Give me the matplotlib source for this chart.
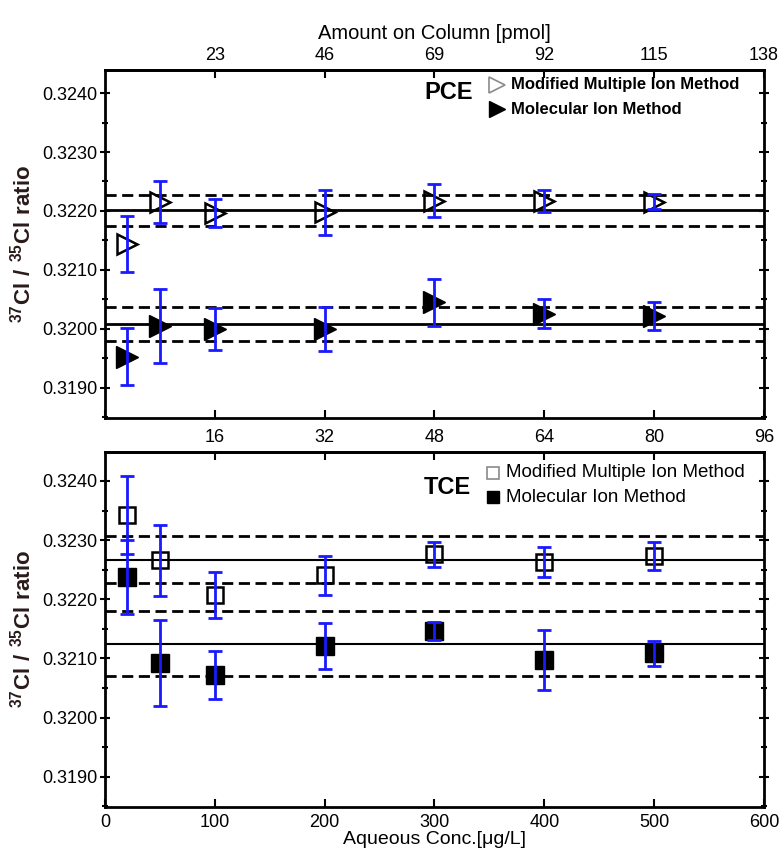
import numpy as np
import matplotlib.pyplot as plt
from matplotlib.ticker import MultipleLocator

plt.rcParams['font.family'] = ['Liberation Sans', 'DejaVu Sans']
plt.rcParams['mathtext.fontset'] = 'custom'
plt.rcParams['mathtext.rm'] = 'Liberation Sans'
plt.rcParams['mathtext.bf'] = 'Liberation Sans:bold'

# aqueous concentration (ug/L)
conc = [20, 50, 100, 200, 300, 400, 500]

# PCE ratios
pce_mmi = [0.32144, 0.32215, 0.32196, 0.32198, 0.32217, 0.32217, 0.32216]
pce_mmi_err = [0.00048, 0.00036, 0.00024, 0.00038, 0.00028, 0.00019, 0.00013]
pce_mol = [0.31953, 0.32005, 0.32000, 0.32000, 0.32045, 0.32026, 0.32022]
pce_mol_err = [0.00048, 0.00062, 0.00036, 0.00038, 0.00040, 0.00025, 0.00023]
pce_mean = [0.32201, 0.32009]
pce_sd = [0.00026, 0.00029]

# TCE ratios
tce_mmi = [0.32342, 0.32266, 0.32208, 0.32241, 0.32276, 0.32263, 0.32273]
tce_mmi_err = [0.00066, 0.00060, 0.00039, 0.00033, 0.00021, 0.00025, 0.00024]
tce_mol = [0.32238, 0.32092, 0.32072, 0.32121, 0.32146, 0.32098, 0.32109]
tce_mol_err = [0.00063, 0.00073, 0.00040, 0.00039, 0.00015, 0.00051, 0.00021]
tce_mean = [0.32267, 0.32125]
tce_sd = [0.00040, 0.00055]

# amount on column (pmol) per ug/L for each compound
pce_factor = 0.23
tce_factor = 0.16
pce_pmol_ticks = [23, 46, 69, 92, 115, 138]
tce_pmol_ticks = [16, 32, 48, 64, 80, 96]

x_ticks = [0, 100, 200, 300, 400, 500, 600]
y_ticks = [0.3190, 0.3200, 0.3210, 0.3220, 0.3230, 0.3240]
labels = ['Modified Multiple Ion Method', 'Molecular Ion Method']

fig = plt.figure(figsize=(7.8, 8.52), dpi=100)
ax1 = fig.add_axes([0.1346, 0.5094, 0.8449, 0.4084])
ax2 = fig.add_axes([0.1346, 0.0528, 0.8449, 0.4167])

blue = '#1a1aff'


def panel(ax, y1, e1, y2, e2, means, sds, marker, ms1, ms2, factor,
          pmol_ticks, show_xlabels, ylim, lw_mean):
    for m, s in zip(means, sds):
        ax.axhline(m, color='black', lw=lw_mean, zorder=1)
        ax.axhline(m + s, color='black', lw=2, ls=(0, (4, 2)), zorder=1)
        ax.axhline(m - s, color='black', lw=2, ls=(0, (4, 2)), zorder=1)

    ax.plot(conc, y2, ls='none', marker=marker, ms=ms2, color='black',
            zorder=3)
    ax.plot(conc, y1, ls='none', marker=marker, ms=ms1, mfc='none',
            mec='black', mew=1.8, zorder=3)
    ax.errorbar(conc, y1, yerr=e1, fmt='none', ecolor=blue, elinewidth=2,
                capsize=5, capthick=2, zorder=4)
    ax.errorbar(conc, y2, yerr=e2, fmt='none', ecolor=blue, elinewidth=2,
                capsize=5, capthick=2, zorder=4)

    ax.set_xlim(0, 600)
    ax.set_ylim(*ylim)
    ax.set_xticks(x_ticks)
    ax.set_yticks(y_ticks)
    ax.set_yticklabels(['%.4f' % v for v in y_ticks], fontsize=13)
    ax.yaxis.set_minor_locator(MultipleLocator(0.0005))
    if show_xlabels:
        ax.set_xticklabels([str(v) for v in x_ticks], fontsize=13)
    else:
        ax.set_xticklabels([])
    ax.tick_params(axis='x', direction='in', length=6, width=1.5, pad=5)
    ax.tick_params(axis='y', which='both', direction='inout', width=1.5,
                   right=True, pad=2)
    ax.tick_params(axis='y', which='major', length=7)
    ax.tick_params(axis='y', which='minor', length=5)
    for sp in ax.spines.values():
        sp.set_linewidth(2)

    top = ax.secondary_xaxis('top', functions=(lambda v: v * factor,
                                               lambda p: p / factor))
    top.set_xticks(pmol_ticks)
    top.set_xticklabels([str(v) for v in pmol_ticks], fontsize=13)
    top.tick_params(direction='in', length=6, width=1.5, pad=4)
    top.spines['top'].set_linewidth(2)

    ax.set_ylabel('$\\mathbf{^{37}Cl\\ /\\ ^{35}Cl\\ ratio}$', fontsize=16,
                  color='#2a1a1a', labelpad=5)
    return top


def key(ax, name, name_xy, marker, mx, tx, rows, ms_open, ms_fill, font):
    ax.text(name_xy[0], name_xy[1], name, transform=ax.transAxes,
            fontsize=17, fontweight='bold', ha='center', va='center')
    ax.plot(mx, rows[0], marker=marker, ms=ms_open, mfc='none',
            mec='#8a8a8a', mew=1.2, transform=ax.transAxes, clip_on=False)
    ax.plot(mx, rows[1], marker=marker, ms=ms_fill, color='black',
            transform=ax.transAxes, clip_on=False)
    for lab, ry in zip(labels, rows):
        ax.text(tx, ry, lab, transform=ax.transAxes, va='center', ha='left',
                **font)


top1 = panel(ax1, pce_mmi, pce_mmi_err, pce_mol, pce_mol_err, pce_mean, pce_sd,
             '>', 15, 16, pce_factor, pce_pmol_ticks, False,
             (0.31849, 0.32439), 2)
top1.set_xlabel('Amount on Column [pmol]', fontsize=14.5, labelpad=6)
key(ax1, 'PCE', (0.522, 0.934), '>', 0.595, 0.616, (0.957, 0.888), 11, 11,
    {'fontsize': 12, 'fontweight': 'bold'})

top2 = panel(ax2, tce_mmi, tce_mmi_err, tce_mol, tce_mol_err, tce_mean, tce_sd,
             's', 12, 13, tce_factor, tce_pmol_ticks, True,
             (0.31849, 0.32449), 1.5)
ax2.set_xlabel('Aqueous Conc.[\u03bcg/L]', fontsize=14, labelpad=0)
key(ax2, 'TCE', (0.52, 0.899), 's', 0.589, 0.609, (0.941, 0.873), 9, 9,
    {'fontsize': 13.5})

fig.savefig('out.png', dpi=100)
